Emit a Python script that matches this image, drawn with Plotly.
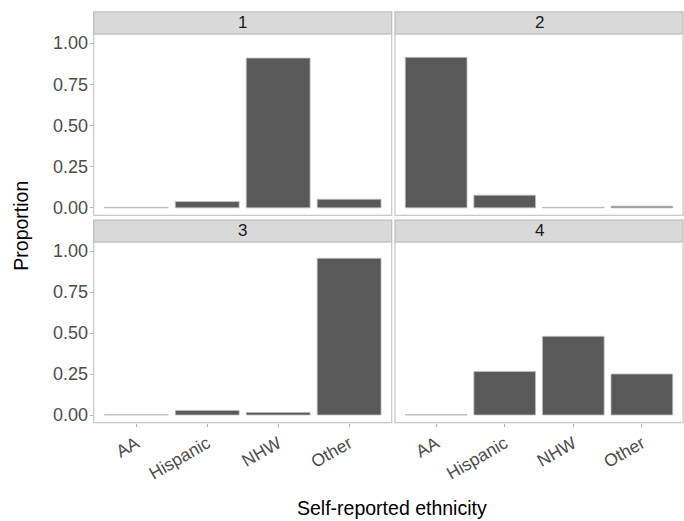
import plotly.graph_objects as go

categories = ["AA", "Hispanic", "NHW", "Other"]
panels = ["1", "2", "3", "4"]
values_1 = [0.003, 0.038, 0.909, 0.052]
values_2 = [0.913, 0.077, 0.003, 0.010]
values_3 = [0.002, 0.028, 0.016, 0.956]
values_4 = [0.001, 0.266, 0.480, 0.250]
all_values = [values_1, values_2, values_3, values_4]
y_ticks = [0, 0.25, 0.5, 0.75, 1.0]
y_ticklabels = ["0.00", "0.25", "0.50", "0.75", "1.00"]

W, H = 684, 521
FONT = "Liberation Sans, Arial, sans-serif"

# pixel boxes of panels (left, right, top, bottom)
xcols = [(93.7, 391.7), (395.0, 683.0)]
yrows = [(34.0, 216.7), (243.3, 425.0)]
strip_h = 22.0

fig = go.Figure()
layout = dict(
    width=W, height=H, margin=dict(l=0, r=0, t=0, b=0),
    paper_bgcolor="white", plot_bgcolor="white",
    showlegend=False, bargap=0.1,
    font=dict(family=FONT),
)
shapes = []
annotations = []

for i, (name, vals) in enumerate(zip(panels, all_values)):
    r, c = divmod(i, 2)
    xl, xr = xcols[c]
    yt, yb = yrows[r]
    ax = "" if i == 0 else str(i + 1)
    fig.add_trace(go.Bar(
        x=categories, y=vals, xaxis="x" + ax, yaxis="y" + ax,
        marker=dict(color="#595959", line=dict(color="#bfbfbf", width=0.8)),
        width=0.9,
    ))
    layout["xaxis" + ax] = dict(
        domain=[xl / W, xr / W], anchor="y" + ax,
        range=[-0.6, 3.6], type="category",
        categoryorder="array", categoryarray=categories,
        showgrid=False, zeroline=False, showline=False,
        ticks="outside" if r == 1 else "", ticklen=3, tickcolor="#b0b0b0",
        showticklabels=(r == 1), tickangle=-30,
        tickfont=dict(size=17.5, color="#4d4d4d", family=FONT),
    )
    layout["yaxis" + ax] = dict(
        domain=[1 - yb / H, 1 - yt / H], anchor="x" + ax,
        range=[-0.046, 1.056],
        tickvals=y_ticks, ticktext=y_ticklabels,
        showgrid=False, zeroline=False, showline=False,
        ticks="outside" if c == 0 else "", ticklen=3, tickcolor="#b0b0b0",
        showticklabels=(c == 0), ticklabelstandoff=-2,
        tickfont=dict(size=18, color="#4d4d4d", family=FONT),
    )
    # panel border
    shapes.append(dict(type="rect", xref="paper", yref="paper",
                       x0=xl / W, x1=xr / W, y0=1 - yb / H, y1=1 - yt / H,
                       line=dict(color="#c8c8c8", width=1.2), fillcolor="rgba(0,0,0,0)", layer="above"))
    # strip
    shapes.append(dict(type="rect", xref="paper", yref="paper",
                       x0=xl / W, x1=xr / W, y0=1 - yt / H, y1=1 - (yt - strip_h) / H,
                       line=dict(color="#bdbdbd", width=1.2), fillcolor="#d9d9d9", layer="below"))
    annotations.append(dict(text=name, xref="paper", yref="paper",
                            x=(xl + xr) / 2 / W, y=1 - (yt - strip_h / 2) / H,
                            showarrow=False, xanchor="center", yanchor="middle",
                            font=dict(size=17, color="#1a1a1a", family=FONT)))

annotations.append(dict(text="Proportion", xref="paper", yref="paper",
                        x=21 / W, y=1 - 227 / H, textangle=-90, showarrow=False,
                        xanchor="center", yanchor="middle",
                        font=dict(size=19.5, color="#000000", family=FONT)))
annotations.append(dict(text="Self-reported ethnicity", xref="paper", yref="paper",
                        x=392 / W, y=1 - 511 / H, showarrow=False,
                        xanchor="center", yanchor="middle",
                        font=dict(size=19.5, color="#000000", family=FONT)))

layout["shapes"] = shapes
layout["annotations"] = annotations
fig.update_layout(**layout)
fig.write_html("out.html")
